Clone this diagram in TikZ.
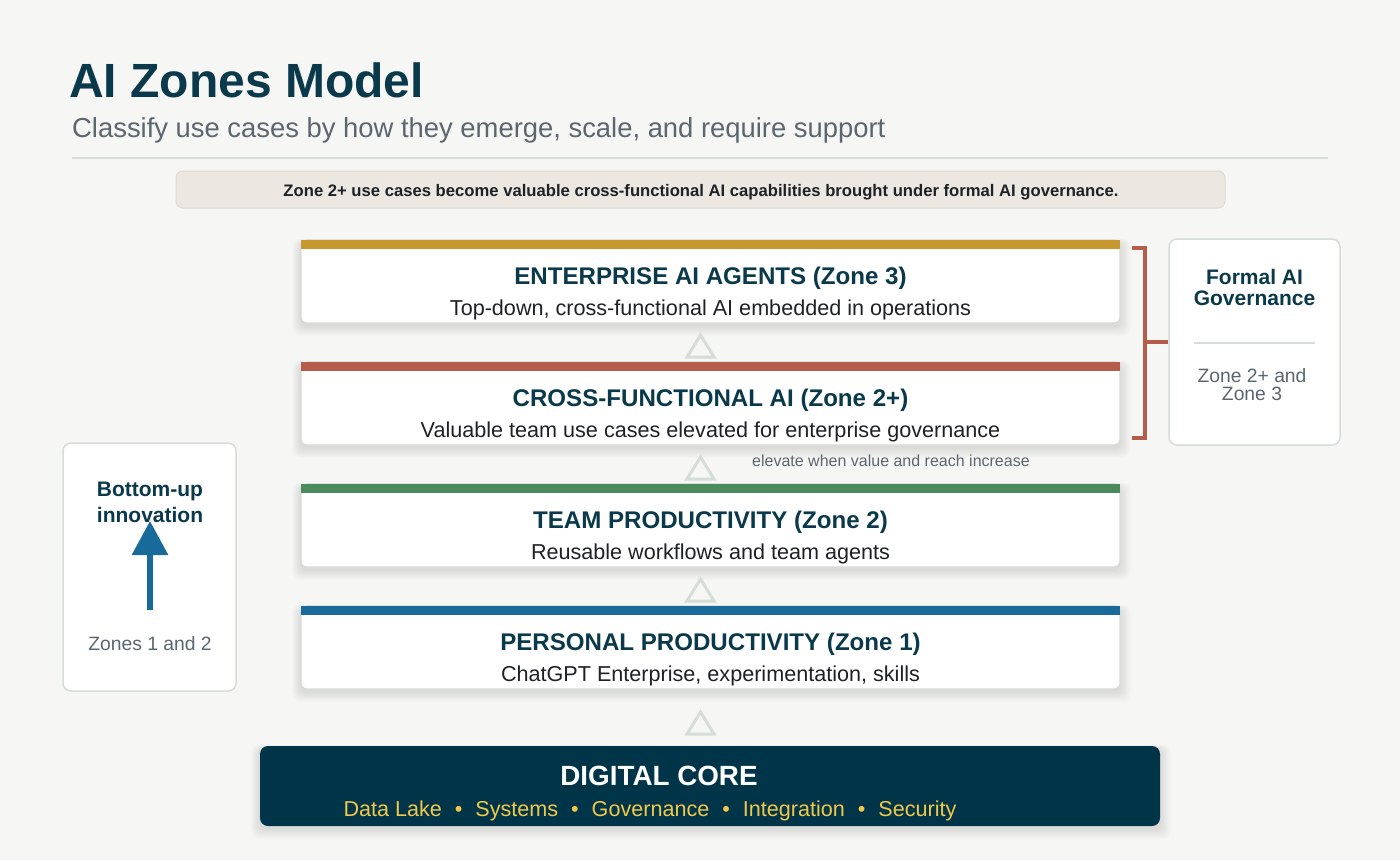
\documentclass[tikz,border=0pt]{standalone}
\usepackage{fontspec}
\setmainfont{Liberation Sans}
\usetikzlibrary{arrows.meta}
\definecolor{bg}{HTML}{F6F6F4}
\definecolor{navy}{HTML}{0A394B}
\definecolor{corebg}{HTML}{003449}
\definecolor{ink}{HTML}{1E2226}
\definecolor{subgray}{HTML}{5B6670}
\definecolor{boxline}{HTML}{D6DCD7}
\definecolor{trigray}{HTML}{D5DDD6}
\definecolor{bannerfill}{HTML}{ECE7E1}
\definecolor{bannerline}{HTML}{DDDAD3}
\definecolor{zgold}{HTML}{C9972F}
\definecolor{zred}{HTML}{B55C4B}
\definecolor{zgreen}{HTML}{4B8A5A}
\definecolor{zblue}{HTML}{176A9A}
\definecolor{zyellow}{HTML}{F2C84B}
\newcommand{\fs}[2]{\fontsize{#1}{#2}\selectfont}
\newcommand{\zsep}{\hspace{0.6em}•\hspace{0.6em}}
\newcommand{\softshadow}[4]{%
  \foreach \i in {1,...,9} {\fill[black, opacity=0.011, rounded corners=8pt] (#1-\i, #2+3-\i*0.5) rectangle (#3+\i*1.2, #4+3+\i*1.1);}}
\newcommand{\zone}[5]{%
  \softshadow{301}{#2}{1120}{#2+83}
  \node[zonebox, minimum width=819pt, minimum height=83pt] (#1) at (710.5,#2+41.5) {};
  \fill[#3] (301,#2) rectangle (1120,#2+9);
  \node[ztitle] (#1t) at (710.5,#2+44) {#4};
  \node[zsub] (#1s) at (710.5,#2+75.5) {#5};}
\begin{document}
\begin{tikzpicture}[x=1pt,y=-1pt,
  zonebox/.style={draw=boxline, line width=1.2pt, fill=white, rounded corners=6pt, inner sep=0},
  ztitle/.style={anchor=base, inner sep=0, text=navy, font=\bfseries\fs{24.1}{26}},
  zsub/.style={anchor=base, inner sep=0, text=ink, font=\fs{21.6}{24}},
  sidebox/.style={draw=boxline, line width=1.5pt, fill=white, rounded corners=8pt, inner sep=0},
  sidehead/.style={anchor=base, inner sep=0, text=navy, font=\bfseries\fs{21}{22}},
  sidenote/.style={anchor=base, inner sep=0, text=subgray, font=\fs{19.3}{20}},
  tri/.style={draw=trigray, line width=3pt, line join=miter},
]
\fill[bg] (0,0) rectangle (1400,860);
\useasboundingbox (0,0) rectangle (1400,860);

% title
\node[anchor=base west, inner sep=0, text=navy, font=\bfseries\fs{48}{52}] (title) at (69,97) {AI Zones Model};
\node[anchor=base west, inner sep=0, text=subgray, font=\fs{27.4}{30}] (subtitle) at (72,137) {Classify use cases by how they emerge, scale, and require support};
\draw[boxline, line width=2pt] (72,158.3) -- (1328,158.3);

% banner
\node[draw=bannerline, line width=1pt, fill=bannerfill, rounded corners=7pt, minimum width=1049pt, minimum height=37pt, inner sep=0] (banner) at (700.5,189.5) {};
\node[anchor=base, inner sep=0, text=ink, font=\bfseries\fs{16.65}{18}] (bannertext) at (701,196) {Zone 2+ use cases become valuable cross-functional AI capabilities brought under formal AI governance.};

% zones
\zone{z3}{240}{zgold}{ENTERPRISE AI AGENTS (Zone 3)}{Top-down, cross-functional AI embedded in operations}
\zone{z2p}{362}{zred}{CROSS-FUNCTIONAL AI (Zone 2+)}{Valuable team use cases elevated for enterprise governance}
\zone{z2}{484}{zgreen}{TEAM PRODUCTIVITY (Zone 2)}{Reusable workflows and team agents}
\zone{z1}{606}{zblue}{PERSONAL PRODUCTIVITY (Zone 1)}{ChatGPT Enterprise, experimentation, skills}

% triangles
\foreach \t in {335,457,579,712} {\draw[tri] (687,\t+22) -- (700.5,\t) -- (714,\t+22) -- cycle;}
\node[anchor=base west, inner sep=0, text=subgray, font=\fs{16}{18}] (elev) at (752,466) {elevate when value and reach increase};

% digital core
\softshadow{260}{746}{1160}{826}
\node[fill=corebg, rounded corners=8pt, minimum width=900pt, minimum height=80pt, inner sep=0] (core) at (710,786) {};
\node[anchor=base, inner sep=0, text=white, font=\bfseries\fs{27.8}{30}] (coretitle) at (659,785) {DIGITAL CORE};
\node[anchor=base, inner sep=0, text=zyellow, font=\fs{21.6}{24}] (coreitems) at (650,816) {Data Lake\zsep Systems\zsep Governance\zsep Integration\zsep Security};

% left box
\node[sidebox, minimum width=173pt, minimum height=248pt] (bottomup) at (149.5,567) {};
\node[sidehead] (bu1) at (150,496) {Bottom-up};
\node[sidehead] (bu2) at (150,522) {innovation};
\coordinate (arrS) at (150,610);
\coordinate (arrE) at (150,521);
\draw[zblue, line width=6pt, -{Triangle[width=35pt,length=34pt]}] (arrS) -- (arrE);
\node[sidenote] (bunote) at (150,650) {Zones 1 and 2};

% right box
\node[sidebox, minimum width=171pt, minimum height=206pt] (gov) at (1254.5,342) {};
\node[sidehead] (gov1) at (1254.5,284) {Formal AI};
\node[sidehead] (gov2) at (1254.5,305) {Governance};
\draw[boxline, line width=2pt] (1194,342.5) -- (1315,342.5);
\node[sidenote] (gov3) at (1252,382) {Zone 2+ and};
\node[sidenote] (gov4) at (1252,400) {Zone 3};

% bracket
\coordinate (brT) at (1132,248);
\coordinate (brB) at (1132,438);
\coordinate (brM) at (1145,342);
\draw[zred, line width=3.5pt, line join=miter] (brT) -- (1145,248) -- (1145,438) -- (brB);
\draw[zred, line width=3.5pt] (brM) -- (gov.west);
\end{tikzpicture}
\end{document}
